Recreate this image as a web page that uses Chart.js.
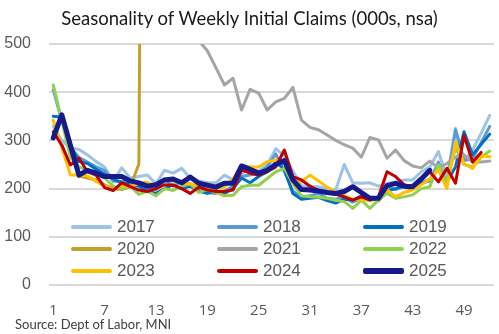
<!DOCTYPE html>
<html>
<head>
<meta charset="utf-8">
<script src="https://cdn.jsdelivr.net/npm/chart.js@4.4.1/dist/chart.umd.min.js"></script>
<style>
  html, body { margin: 0; padding: 0; background: #fff; }
  #wrap { position: relative; width: 499px; height: 334px; overflow: hidden; }
  #title { position: absolute; left: 0; top: 7px; width: 499px; text-align: center;
           font: 18.5px 'Lato'; color: #1a1a1a; }
  #source { position: absolute; left: 15px; top: 316px; font: 13px 'Lato'; color: #404040; }
  .item { position: absolute; height: 20px; display: flex; align-items: center;
          font: 17px 'Liberation Sans'; color: #595959; }
  .swatch { width: 41px; border-radius: 2px; margin-right: 5px; }
</style>
</head>
<body>
<div id="wrap">
  <canvas id="claimsChart" width="499" height="334"></canvas>
  <div id="title">Seasonality of Weekly Initial Claims (000s, nsa)</div>
  <div id="legend"></div>
  <div id="source">Source: Dept of Labor, MNI</div>
</div>
<script>
// week numbers on the x axis
const weeks = [1, 2, 3, 4, 5, 6, 7, 8, 9, 10, 11, 12, 13, 14, 15, 16, 17, 18, 19, 20,
  21, 22, 23, 24, 25, 26, 27, 28, 29, 30, 31, 32, 33, 34, 35, 36, 37, 38, 39, 40,
  41, 42, 43, 44, 45, 46, 47, 48, 49, 50, 51, 52];

// initial claims, 000s, not seasonally adjusted
const y2017 = [330, 300, 285, 281, 270, 256, 245, 216, 243, 222, 225, 228, 210, 238, 232, 242, 222, 216, 212, 212,
  228, 218, 230, 245, 236, 249, 283, 268, 236, 206, 204, 204, 200, 197, 250, 212, 211, 212, 205, 210,
  214, 218, 218, 235, 245, 277, 222, 325, 258, 280, 315, 352];
const y2018 = [405, 340, 285, 265, 255, 245, 238, 215, 215, 218, 210, 200, 198, 220, 205, 215, 210, 195, 192, 190,
  195, 205, 225, 228, 232, 245, 272, 235, 195, 182, 185, 190, 180, 178, 182, 172, 180, 178, 180, 205,
  198, 205, 200, 212, 215, 255, 208, 322, 258, 262, 295, 329];
const y2019 = [350, 348, 290, 256, 252, 240, 230, 220, 212, 210, 205, 195, 190, 200, 208, 200, 205, 195, 190, 196,
  190, 200, 222, 212, 225, 235, 255, 240, 190, 178, 180, 182, 175, 170, 178, 176, 185, 180, 175, 195,
  200, 205, 198, 210, 220, 240, 215, 245, 318, 270, 292, 313];
const y2020 = [315, 350, 280, 226, 222, 218, 208, 200, 198, 204, 251, 2920, 6015, 6211, 4971, 4267, 3846, 3176, 2849, 2446,
  2118, 1900, 1697, 1570, 1444, 1413, 1398, 1507, 1369, 1214, 1186, 963, 1100, 880, 833, 866, 790, 824, 804, 750,
  777, 743, 689, 751, 709, 743, 827, 716, 947, 948, 842, 787];
const y2021 = [1150, 1070, 910, 870, 810, 840, 840, 740, 730, 720, 660, 680, 730, 840, 570, 560, 550, 507, 486, 451,
  415, 429, 363, 406, 398, 363, 380, 387, 410, 342, 327, 322, 311, 300, 291, 284, 265, 306, 301, 263,
  280, 258, 247, 243, 257, 243, 252, 265, 270, 255, 255, 257];
const y2022 = [415, 340, 265, 245, 238, 230, 222, 205, 200, 205, 188, 195, 185, 200, 196, 205, 210, 192, 198, 192,
  185, 186, 204, 207, 207, 221, 235, 242, 211, 185, 183, 182, 180, 176, 173, 159, 176, 159, 176, 190,
  180, 183, 187, 200, 204, 249, 215, 285, 250, 245, 265, 278];
const y2023 = [342, 285, 228, 228, 226, 215, 205, 197, 207, 204, 211, 213, 205, 220, 215, 212, 210, 205, 198, 200,
  203, 220, 248, 245, 245, 256, 259, 257, 210, 215, 228, 216, 203, 193, 185, 178, 177, 176, 178, 198,
  183, 192, 197, 208, 220, 239, 200, 297, 252, 242, 268, 266];
const y2024 = [318, 290, 249, 263, 235, 228, 202, 196, 212, 204, 197, 194, 200, 208, 207, 200, 190, 203, 197, 194,
  194, 197, 239, 232, 228, 235, 245, 280, 225, 218, 205, 196, 191, 188, 183, 176, 183, 176, 183, 235,
  225, 208, 204, 218, 235, 214, 242, 211, 310, 255, 275];
const y2025 = [305, 353, 290, 228, 238, 232, 225, 225, 225, 216, 212, 205, 208, 218, 220, 212, 224, 211, 207, 203,
  211, 211, 247, 240, 232, 238, 250, 258, 218, 198, 197, 195, 192, 190, 194, 204, 192, 180, 180, 206,
  211, 205, 204, 220, 238];

const yTicks = [0, 100, 200, 300, 400, 500];

const series = [
  { label: '2017', data: y2017, color: '#9DC3E6', width: 3 },
  { label: '2018', data: y2018, color: '#5B9BD5', width: 3 },
  { label: '2019', data: y2019, color: '#0070C0', width: 3 },
  { label: '2020', data: y2020, color: '#C4A02A', width: 3 },
  { label: '2021', data: y2021, color: '#A5A5A5', width: 3 },
  { label: '2022', data: y2022, color: '#92D050', width: 3 },
  { label: '2023', data: y2023, color: '#FFC000', width: 3 },
  { label: '2024', data: y2024, color: '#C00000', width: 3 },
  { label: '2025', data: y2025, color: '#161A8A', width: 5 }
];

const ctx = document.getElementById('claimsChart').getContext('2d');

const claimsChart = new Chart(ctx, {
  type: 'line',
  data: {
    labels: weeks,
    datasets: series.map(function(s, i) {
      return {
        label: s.label,
        data: s.data,
        borderColor: s.color,
        backgroundColor: s.color,
        borderWidth: s.width,
        fill: false,
        order: series.length - i // later years drawn on top
      };
    })
  },
  options: {
    responsive: false,
    animation: false,
    layout: { padding: { top: 44, right: 5, left: 0, bottom: 0 } },
    plugins: {
      legend: { display: false },
      tooltip: { enabled: false },
      title: { display: false }
    },
    elements: {
      point: { radius: 0 },
      line: { tension: 0, borderJoinStyle: 'round', borderCapStyle: 'round' }
    },
    scales: {
      x: {
        type: 'category',
        offset: true,
        grid: { display: false },
        border: { display: false },
        ticks: {
          autoSkip: false,
          maxRotation: 0,
          padding: 9,
          color: '#595959',
          font: { family: 'Open Sans', size: 15 },
          callback: function(value, index) {
            return index % 6 === 0 ? this.getLabelForValue(value) : '';
          }
        },
        afterFit: function(scale) { scale.height = 49; }
      },
      y: {
        min: 0,
        max: 500,
        afterBuildTicks: function(scale) {
          scale.ticks = yTicks.map(function(v) { return { value: v }; });
        },
        ticks: {
          padding: 18,
          color: '#595959',
          font: { family: 'Liberation Sans', size: 16 }
        },
        grid: { color: '#D9D9D9', lineWidth: 2, drawTicks: false },
        border: { display: false },
        afterFit: function(scale) { scale.width = 49; }
      }
    }
  }
});

// Legend in three columns inside the plot area
const legend = document.getElementById('legend');
const colX = [71, 217, 363];
const rowY = [217, 239, 261];
series.forEach(function(s, i) {
  const item = document.createElement('div');
  item.className = 'item';
  item.style.left = colX[i % 3] + 'px';
  item.style.top = rowY[Math.floor(i / 3)] + 'px';
  const swatch = document.createElement('span');
  swatch.className = 'swatch';
  swatch.style.background = s.color;
  swatch.style.height = (s.width === 5 ? 6 : 4) + 'px';
  item.appendChild(swatch);
  item.appendChild(document.createTextNode(s.label));
  legend.appendChild(item);
});
</script>
</body>
</html>
